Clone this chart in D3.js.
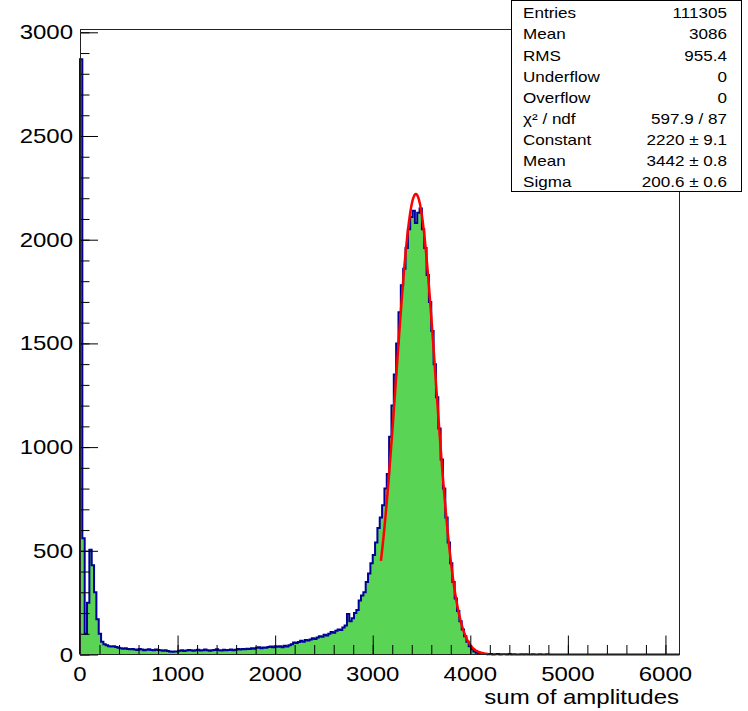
<!DOCTYPE html>
<html>
<head>
<meta charset="utf-8">
<script src="https://cdn.jsdelivr.net/npm/d3@7"></script>
<style>
  body { margin: 0; background: #fff; }
  text { font-family: "Liberation Sans", Arial, sans-serif; fill: #000; }
</style>
</head>
<body>
<svg width="748" height="711"></svg>
<script>
const width = 748;
const height = 711;

// histogram: 256 bins of 24 units from 0
const binWidth = 24;
const counts = [
  2870, 560, 100, 250, 505, 430, 300, 170, 100, 62,
  50, 45, 40, 38, 40, 36, 32, 30, 28, 30,
  26, 25, 27, 24, 22, 26, 24, 21, 23, 25,
  22, 20, 24, 22, 20, 18, 20, 17, 14, 13,
  15, 14, 18, 20, 17, 19, 22, 20, 18, 21,
  23, 19, 20, 24, 21, 18, 20, 22, 25, 21,
  19, 23, 20, 22, 24, 21, 23, 26, 24, 27,
  25, 28, 26, 30, 28, 32, 35, 30, 34, 32,
  36, 38, 35, 40, 37, 40, 35, 42, 38, 45,
  50, 58, 55, 60, 66, 62, 70, 68, 72, 78,
  75, 82, 88, 85, 95, 92, 100, 108, 105, 115,
  120, 118, 130, 140, 195, 160, 175, 200, 215, 260,
  285, 300, 350, 390, 440, 480, 540, 610, 660, 720,
  800, 870, 1050, 1200, 1350, 1500, 1650, 1780, 1860, 1960,
  2050, 2110, 2140, 2080, 2130, 2150, 2050, 1960, 1830, 1700,
  1560, 1400, 1240, 1090, 940, 800, 660, 540, 440, 350,
  270, 210, 160, 120, 88, 62, 40, 25, 14, 8,
  5, 3, 3, 2, 1, 2, 0, 1, 2, 0,
  1, 1, 0, 2, 0, 1, 0, 0, 1, 0,
  1, 0, 0, 1, 0, 0, 1, 0, 0, 1,
  0, 0, 0, 0, 0, 0, 0, 0, 0, 0,
  0, 0, 0, 0, 0, 0, 0, 0, 0, 0,
  0, 0, 0, 0, 0, 0, 0, 0, 0, 0,
  0, 0, 0, 0, 0, 0, 0, 0, 0, 0,
  0, 0, 0, 0, 0, 0, 0, 0, 0, 0,
  0, 0, 0, 0, 0, 0
];

const xTicks = [0, 1000, 2000, 3000, 4000, 5000, 6000];
const xMinorTicks = d3.range(0, 6144, 200);
const yTicks = [0, 500, 1000, 1500, 2000, 2500, 3000];
const yMinorTicks = d3.range(0, 3001, 100);

const statNames = ["Entries", "Mean", "RMS", "Underflow", "Overflow", "\u03c7\u00b2 / ndf", "Constant", "Mean", "Sigma"];
const statValues = ["111305", "3086", "955.4", "0", "0", "597.9 / 87", "2220 \u00b1 9.1", "3442 \u00b1 0.8", "200.6 \u00b1 0.6"];

// gaus fit: constant, mean, sigma
const fitParams = [2220, 3442, 200.6];
const fitRange = [3084, 4180];

const frame = { left: 80, right: 679.5, top: 29.5, bottom: 654.5 };

const svg = d3.select("svg")
  .attr("width", width)
  .attr("height", height);

const x = d3.scaleLinear()
  .domain([0, counts.length * binWidth])
  .range([frame.left, frame.right]);

const y = d3.scaleLinear()
  .domain([0, 1.05 * d3.max(counts)])
  .range([frame.bottom, frame.top]);

// step outline of the histogram
const steps = [[0, 0]];
counts.forEach((c, i) => {
  steps.push([i * binWidth, c]);
  steps.push([(i + 1) * binWidth, c]);
});
steps.push([counts.length * binWidth, 0]);

const line = d3.line()
  .x(d => x(d[0]))
  .y(d => y(d[1]));

svg.append("path")
  .attr("d", line(steps) + "Z")
  .attr("fill", "#59d454")
  .attr("stroke", "none");

svg.append("path")
  .attr("d", line(steps))
  .attr("fill", "none")
  .attr("stroke", "#000099")
  .attr("stroke-width", 2);

// fit curve
const gaus = v => fitParams[0] * Math.exp(-0.5 * Math.pow((v - fitParams[1]) / fitParams[2], 2));
const fitPts = d3.range(fitRange[0], fitRange[1] + 1, 4).map(v => [v, gaus(v)]);
svg.append("path")
  .attr("d", line(fitPts))
  .attr("fill", "none")
  .attr("stroke", "#ff0000")
  .attr("stroke-width", 2.5);

// axes (ticks drawn inside the frame)
const xMajor = svg.append("g")
  .attr("transform", `translate(0,${frame.bottom})`)
  .call(d3.axisBottom(x).tickValues(xTicks).tickSize(-19).tickFormat(""));
const xMinor = svg.append("g")
  .attr("transform", `translate(0,${frame.bottom})`)
  .call(d3.axisBottom(x).tickValues(xMinorTicks).tickSize(-9.5).tickFormat(""));
const yMajor = svg.append("g")
  .attr("transform", `translate(${frame.left},0)`)
  .call(d3.axisLeft(y).tickValues(yTicks).tickSize(-18).tickFormat(""));
const yMinor = svg.append("g")
  .attr("transform", `translate(${frame.left},0)`)
  .call(d3.axisLeft(y).tickValues(yMinorTicks).tickSize(-9.5).tickFormat(""));

[xMajor, xMinor, yMajor, yMinor].forEach(g => {
  g.select(".domain").remove();
  g.selectAll("line").attr("stroke", "#000");
});

svg.append("rect")
  .attr("x", frame.left)
  .attr("y", frame.top)
  .attr("width", frame.right - frame.left)
  .attr("height", frame.bottom - frame.top)
  .attr("fill", "none")
  .attr("stroke", "#222")
  .attr("shape-rendering", "crispEdges");

// text is slightly stretched horizontally, like the source image
function label(px, py, str, size, anchor) {
  svg.append("text")
    .attr("transform", `translate(${px},${py}) scale(1.2,1)`)
    .attr("text-anchor", anchor)
    .style("font-size", size + "px")
    .text(str);
}

xTicks.forEach(t => label(x(t), 681, t, 20, "middle"));
yTicks.forEach(t => label(73, y(t) + 7, t, 20, "end"));
label(679, 704, "sum of amplitudes", 20, "end");

// stats box
svg.append("rect")
  .attr("x", 511.5)
  .attr("y", 0.5)
  .attr("width", 230)
  .attr("height", 191)
  .attr("fill", "#fff")
  .attr("stroke", "#000")
  .attr("shape-rendering", "crispEdges");

statNames.forEach((s, i) => {
  const by = 18.3 + i * 21.1;
  svg.append("text")
    .attr("transform", `translate(523,${by}) scale(1.22,1)`)
    .style("font-size", "14px")
    .text(s);
  svg.append("text")
    .attr("transform", `translate(727,${by}) scale(1.22,1)`)
    .attr("text-anchor", "end")
    .style("font-size", "14px")
    .text(statValues[i]);
});
</script>
</body>
</html>
